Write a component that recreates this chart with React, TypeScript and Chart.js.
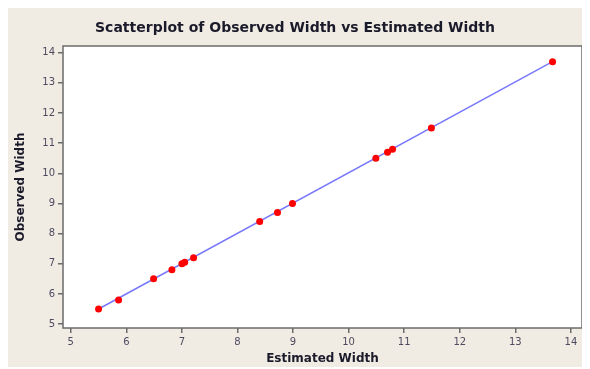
import React, { useEffect, useRef } from "react";
import { Chart, registerables } from "chart.js";

Chart.register(...registerables);

const estimatedWidth = [5.5, 5.86, 6.49, 6.82, 7.0, 7.05, 7.21, 8.4, 8.72, 8.99, 10.49, 10.7, 10.79, 11.49, 13.67];
const observedWidth = [5.5, 5.8, 6.5, 6.8, 7.0, 7.05, 7.2, 8.4, 8.7, 9.0, 10.5, 10.7, 10.8, 11.5, 13.7];
const fitLineX = [5.5, 13.67];
const fitLineY = [5.5, 13.7];
const xTicks = [5, 6, 7, 8, 9, 10, 11, 12, 13, 14];
const yTicks = [5, 6, 7, 8, 9, 10, 11, 12, 13, 14];

const framePlugin = {
  id: "frame",
  afterDraw(chart: any) {
    const { ctx, chartArea } = chart;
    ctx.save();
    ctx.strokeStyle = "#6b6b6b";
    ctx.lineWidth = 1.5;
    ctx.strokeRect(chartArea.left, chartArea.top, chartArea.right - chartArea.left, chartArea.bottom - chartArea.top);
    ctx.restore();
  },
};

const bgPlugin = {
  id: "bgfill",
  beforeDraw(chart: any) {
    const { ctx, chartArea } = chart;
    ctx.save();
    ctx.fillStyle = "#ffffff";
    ctx.fillRect(chartArea.left, chartArea.top, chartArea.right - chartArea.left, chartArea.bottom - chartArea.top);
    ctx.restore();
  },
};

export default function App() {
  const ref = useRef<HTMLCanvasElement>(null);
  useEffect(() => {
    if (!ref.current) return;
    const tickFont = { family: "Tahoma, 'DejaVu Sans', sans-serif", size: 10 };
    const titleFont = { family: "'DejaVu Sans', sans-serif", size: 12, weight: "bold" as const };
    const chart = new Chart(ref.current, {
      type: "scatter",
      data: {
        datasets: [
          {
            type: "line",
            data: fitLineX.map((x, i) => ({ x, y: fitLineY[i] })),
            borderColor: "#7878ff",
            borderWidth: 1.5,
            pointRadius: 0,
            fill: false,
            order: 2,
          } as any,
          {
            data: estimatedWidth.map((x, i) => ({ x, y: observedWidth[i] })),
            backgroundColor: "#ff0000",
            borderColor: "#ff0000",
            pointRadius: 3.5,
            borderWidth: 0,
            order: 1,
          },
        ],
      },
      options: {
        animation: false,
        responsive: false,
        layout: { padding: { left: 0, right: 8, top: 0, bottom: 0 } },
        plugins: {
          legend: { display: false },
          tooltip: { enabled: false },
          title: {
            display: true,
            text: "Scatterplot of Observed Width vs Estimated Width",
            color: "#1a1a2a",
            font: { family: "'DejaVu Sans', sans-serif", size: 14, weight: "bold" },
            padding: { top: 11.6, bottom: 9.6 },
          },
        },
        scales: {
          x: {
            type: "linear",
            min: 4.86,
            max: 14.2,
            afterBuildTicks: (s: any) => {
              s.ticks = xTicks.map((v) => ({ value: v }));
            },
            afterFit: (s: any) => {
              s.height = 39;
            },
            grid: { drawOnChartArea: false, drawTicks: true, tickLength: 5, color: "#6b6b6b", lineWidth: 1.5 },
            border: { display: false },
            ticks: { font: tickFont, color: "#4e4a60", padding: 3, maxRotation: 0 },
            title: { display: true, text: "Estimated Width", font: titleFont, color: "#1a1a2a", padding: { top: 0, bottom: 1 } },
          },
          y: {
            type: "linear",
            min: 4.87,
            max: 14.22,
            afterBuildTicks: (s: any) => {
              s.ticks = yTicks.map((v) => ({ value: v }));
            },
            afterFit: (s: any) => {
              s.width = 55;
            },
            grid: { drawOnChartArea: false, drawTicks: true, tickLength: 5, color: "#6b6b6b", lineWidth: 1.5 },
            border: { display: false },
            ticks: { font: tickFont, color: "#4e4a60", padding: 3 },
            title: { display: true, text: "Observed Width", font: titleFont, color: "#1a1a2a", padding: { top: 6, bottom: 0 } },
          },
        },
      },
      plugins: [bgPlugin, framePlugin],
    });
    return () => chart.destroy();
  }, []);
  return (
    <div style={{ width: 582, height: 359, background: "#f0ece3" }}>
      <canvas ref={ref} width={582} height={359} style={{ display: "block" }} />
    </div>
  );
}
